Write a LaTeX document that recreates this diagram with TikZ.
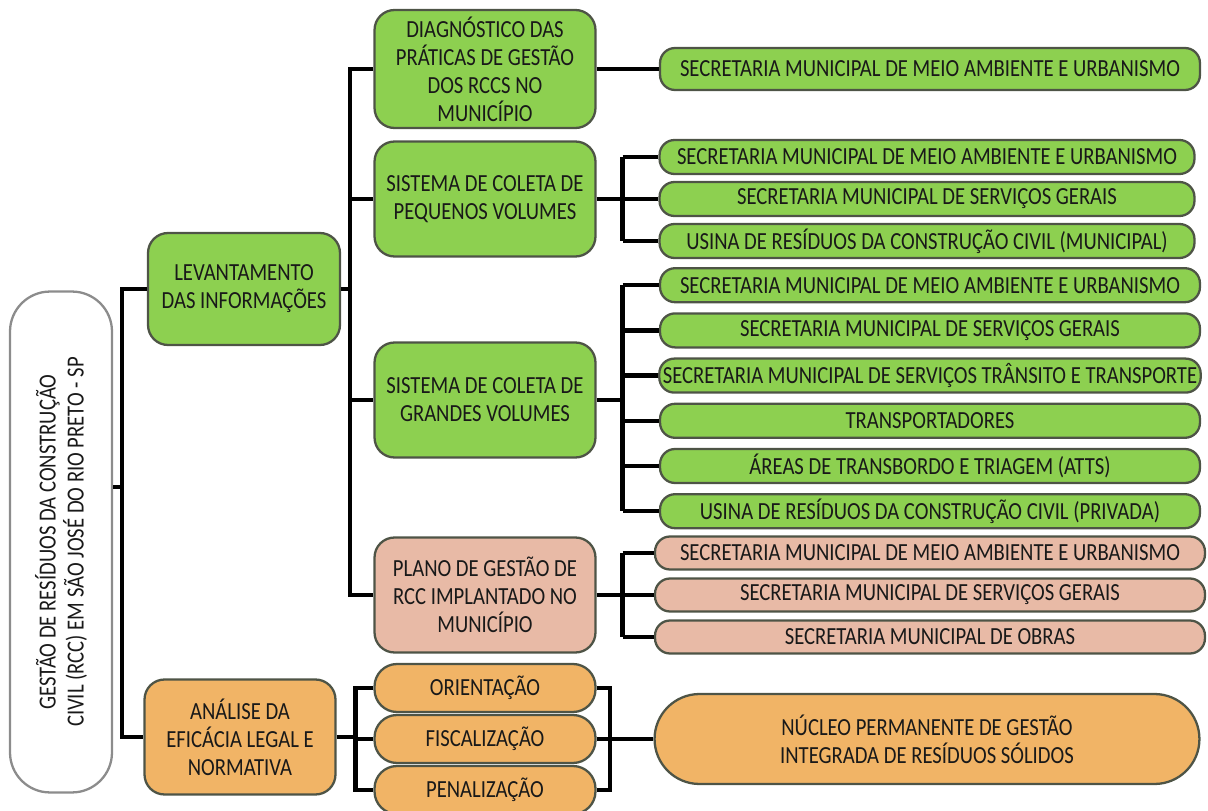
\documentclass[tikz,border=0pt]{standalone}
\usepackage{fontspec}
\setmainfont{Carlito}[FakeStretch=0.84]
\definecolor{verde}{RGB}{141,208,80}
\definecolor{salmao}{RGB}{232,186,166}
\definecolor{laranja}{RGB}{241,180,102}
\definecolor{borda}{RGB}{78,84,70}
\tikzset{
  caixa/.style={draw=borda, line width=1.3pt, align=center, inner sep=2pt,
    text=black!90, font=\fontsize{14}{16}\selectfont},
  nivel/.style={caixa, minimum width=4.42cm, minimum height=2.3cm, rounded corners=0.4cm},
  folha/.style={caixa, minimum width=10.8cm, minimum height=0.68cm, rounded corners=0.3cm},
  acao/.style={caixa, fill=laranja, minimum width=4.42cm, minimum height=0.96cm, rounded corners=0.45cm},
  linha/.style={line width=2.6pt}
}
\begin{document}
\begin{tikzpicture}[x=0.02cm, y=-0.02cm]
\useasboundingbox (0,0) rectangle (1208,811);
% raiz e primeiro nivel
\node[caixa, fill=white, draw=gray!90, rotate=90, minimum width=10.02cm, minimum height=2.04cm,
  rounded corners=0.8cm] (raiz) at (61,542)
  {GESTÃO DE RESÍDUOS DA CONSTRUÇÃO\\CIVIL (RCC) EM SÃO JOSÉ DO RIO PRETO - SP};
\node[caixa, fill=verde, minimum width=3.84cm, minimum height=2.24cm, rounded corners=0.4cm] (lev)
  at (244,289) {LEVANTAMENTO\\DAS INFORMAÇÕES};
\node[caixa, fill=laranja, minimum width=3.82cm, minimum height=2.3cm, rounded corners=0.4cm] (ana)
  at (240,737) {ANÁLISE DA\\EFICÁCIA LEGAL E\\NORMATIVA};
\coordinate (b0) at (122,487);
\draw[linha] (raiz.south |- b0) -- (b0);
\draw[linha] (lev.west) -| (b0) |- (ana.west);
% levantamento das informacoes
\node[nivel, fill=verde, minimum height=2.36cm] (diag) at (485,69)
  {DIAGNÓSTICO DAS\\PRÁTICAS DE GESTÃO\\DOS RCCS NO\\MUNICÍPIO};
\node[nivel, fill=verde] (peq) at (485,199) {SISTEMA DE COLETA DE\\PEQUENOS VOLUMES};
\node[nivel, fill=verde] (gra) at (485,400) {SISTEMA DE COLETA DE\\GRANDES VOLUMES};
\node[nivel, fill=salmao] (plano) at (485,595) {PLANO DE GESTÃO DE\\RCC IMPLANTADO NO\\MUNICÍPIO};
\coordinate (b1) at (350,295);
\draw[linha] (lev.east) -- (lev.east -| b1);
\draw[linha] (diag.west) -| (b1) |- (plano.west);
\foreach \n in {peq, gra}
	\draw[linha] (b1 |- \n.west) -- (\n.west);
% orgaos envolvidos
\node[folha, fill=verde, minimum height=0.84cm] (diag-1) at (930,69)
  {SECRETARIA MUNICIPAL DE MEIO AMBIENTE E URBANISMO};
\draw[linha] (diag.east) -- (diag-1.west);
\foreach \t [count=\i] in {{SECRETARIA MUNICIPAL DE MEIO AMBIENTE E URBANISMO},
    {SECRETARIA MUNICIPAL DE SERVIÇOS GERAIS},
    {USINA DE RESÍDUOS DA CONSTRUÇÃO CIVIL (MUNICIPAL)}}
	\node[folha, fill=verde, minimum width=10.7cm] (peq-\i) at (927,115+42*\i) {\t};
\foreach \t [count=\i] in {{SECRETARIA MUNICIPAL DE MEIO AMBIENTE E URBANISMO},
    {SECRETARIA MUNICIPAL DE SERVIÇOS GERAIS},
    {SECRETARIA MUNICIPAL DE SERVIÇOS TRÂNSITO E TRANSPORTE},
    {TRANSPORTADORES},
    {ÁREAS DE TRANSBORDO E TRIAGEM (ATTS)},
    {USINA DE RESÍDUOS DA CONSTRUÇÃO CIVIL (PRIVADA)}}
	\node[folha, fill=verde] (gra-\i) at (930,240+45.2*\i) {\t};
\foreach \t [count=\i] in {{SECRETARIA MUNICIPAL DE MEIO AMBIENTE E URBANISMO},
    {SECRETARIA MUNICIPAL DE SERVIÇOS GERAIS},
    {SECRETARIA MUNICIPAL DE OBRAS}}
	\node[folha, fill=salmao, minimum width=11cm, minimum height=0.66cm] (plano-\i) at (930,511+42*\i) {\t};
\foreach \g/\k in {peq/3, gra/6, plano/3} {
	\draw[linha] (\g.east) -- ++(26,0) coordinate (\g-b);
	\draw[linha] (\g-b |- \g-1.west) -- (\g-b |- \g-\k.west);
	\foreach \i in {1,...,\k}
		\draw[linha] (\g-b |- \g-\i.west) -- (\g-\i.west);
}
% analise da eficacia
\node[acao] (ori) at (485,688) {ORIENTAÇÃO};
\node[acao] (fis) at (485,739) {FISCALIZAÇÃO};
\node[acao] (pen) at (485,790) {PENALIZAÇÃO};
\node[caixa, fill=laranja, minimum width=10.9cm, minimum height=1.8cm, rounded corners=0.9cm] (nucleo)
  at (927,739) {NÚCLEO PERMANENTE DE GESTÃO\\INTEGRADA DE RESÍDUOS SÓLIDOS};
\coordinate (b4) at (610,739);
\draw[linha] (ana.east) -- ++(19,0) coordinate (ana-b);
\draw[linha] (ori.west) -| (ana-b) |- (pen.west);
\draw[linha] (ana-b |- fis.west) -- (fis.west);
\draw[linha] (ori.east) -| (b4) |- (pen.east);
\draw[linha] (fis.east) -- (nucleo.west);
\end{tikzpicture}
\end{document}
